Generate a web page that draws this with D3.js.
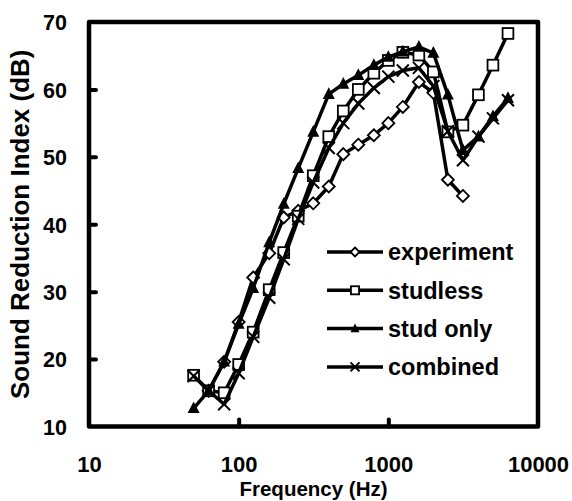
<!DOCTYPE html>
<html>
<head>
<meta charset="utf-8">
<script src="https://cdn.jsdelivr.net/npm/d3@7"></script>
<style>
  body { margin: 0; background: #fff; }
  text { font-family: "Liberation Sans", Arial, sans-serif; font-weight: bold; fill: #000; }
</style>
</head>
<body>
<div id="chart"></div>
<script>
const freqs = [50, 63, 80, 100, 125, 160, 200, 250, 315, 400, 500, 630, 800, 1000, 1250, 1600, 2000, 2500, 3150, 4000, 5000, 6300]

const experiment = [null, 15.3, 19.6, 25.5, 32.1, 35.7, 41.0, 42.0, 43.1, 45.6, 50.4, 51.8, 53.2, 55.0, 57.4, 61.1, 59.5, 46.6, 44.2, null, null, null]
const studless = [17.6, 15.3, 15.0, 19.2, 24.0, 30.3, 35.8, 41.2, 47.2, 53.0, 56.8, 60.0, 62.4, 64.3, 65.5, 65.1, 62.6, 53.7, 54.7, 59.2, 63.6, 68.3]
const studOnly = [12.7, 15.3, 19.6, 25.2, 30.5, 37.3, 43.0, 48.3, 53.7, 59.3, 60.8, 62.1, 63.6, 64.8, 65.6, 66.3, 65.4, 59.2, 51.0, 53.0, 56.0, 58.7]
const combined = [17.5, 15.3, 13.3, 17.9, 23.3, 29.1, 34.8, 40.8, 46.2, 51.3, 55.0, 57.9, 60.2, 61.9, 62.8, 63.2, 60.5, 53.8, 49.5, 53.0, 55.7, 58.4]

const seriesNames = ['experiment', 'studless', 'stud only', 'combined']
const seriesValues = [experiment, studless, studOnly, combined]
const seriesMarkers = ['diamond', 'square', 'triangle', 'cross']

const xTicks = [10, 100, 1000, 10000]
const yTicks = [10, 20, 30, 40, 50, 60, 70]

const width = 572
const height = 501
const margin = { top: 22, right: 34, bottom: 74.5, left: 89 }

const svg = d3.select('#chart')
  .append('svg')
  .attr('width', width)
  .attr('height', height)

const x = d3.scaleLog()
  .domain([10, 10000])
  .range([margin.left, width - margin.right])

const y = d3.scaleLinear()
  .domain([10, 70])
  .range([height - margin.bottom, margin.top])

// frame
svg.append('rect')
  .attr('x', x(10))
  .attr('y', y(70))
  .attr('width', x(10000) - x(10))
  .attr('height', y(10) - y(70))
  .attr('fill', 'none')
  .attr('stroke', '#000')
  .attr('stroke-width', 4.5)
  .attr('stroke-linejoin', 'round')

// y axis, ticks inside
const yAxis = svg.append('g')
  .attr('transform', `translate(${x(10)},0)`)
  .call(d3.axisLeft(y).tickValues(yTicks).tickSize(-7).tickPadding(22).tickSizeOuter(0))
yAxis.select('.domain').remove()
yAxis.selectAll('line').attr('stroke-width', 4).attr('stroke-linecap', 'round')
yAxis.selectAll('.tick')
  .filter(d => d === 10 || d === 70)
  .select('line').remove()
yAxis.selectAll('text').style('font-size', '21.5px').attr('dy', '0.36em')

// x axis, ticks inside
const xAxis = svg.append('g')
  .attr('transform', `translate(0,${y(10)})`)
  .call(d3.axisBottom(x).tickValues(xTicks).tickFormat(d3.format('d')).tickSize(-7).tickPadding(0).tickSizeOuter(0))
xAxis.select('.domain').remove()
xAxis.selectAll('line').attr('stroke-width', 4).attr('stroke-linecap', 'round')
xAxis.selectAll('.tick')
  .filter(d => d === 10 || d === 10000)
  .select('line').remove()
xAxis.selectAll('text').style('font-size', '22px').attr('y', 45).attr('dy', 0)

// axis titles
svg.append('text')
  .attr('x', (x(10) + x(10000)) / 2)
  .attr('y', 495.5)
  .attr('text-anchor', 'middle')
  .style('font-size', '20.5px')
  .text('Frequency (Hz)')

svg.append('text')
  .attr('transform', `translate(29,${(y(10) + y(70)) / 2}) rotate(-90)`)
  .attr('text-anchor', 'middle')
  .style('font-size', '26px')
  .text('Sound Reduction Index (dB)')

// markers
function drawMarker(g, type, s) {
  if (type === 'diamond') {
    g.append('path')
      .attr('d', `M0,${-s}L${s},0L0,${s}L${-s},0Z`)
      .attr('fill', '#fff').attr('stroke', '#000').attr('stroke-width', 1.8)
  } else if (type === 'square') {
    g.append('rect')
      .attr('x', -s * 0.9).attr('y', -s * 0.9).attr('width', s * 1.8).attr('height', s * 1.8)
      .attr('fill', '#fff').attr('stroke', '#000').attr('stroke-width', 1.8)
  } else if (type === 'triangle') {
    g.append('path')
      .attr('d', `M0,${-s * 1.15}L${s},${s * 0.8}L${-s},${s * 0.8}Z`)
      .attr('fill', '#000')
  } else {
    g.append('path')
      .attr('d', `M${-s},${-s}L${s},${s}M${s},${-s}L${-s},${s}`)
      .attr('stroke', '#000').attr('stroke-width', 2)
  }
}

const line = d3.line()
  .defined(d => d.v != null)
  .x(d => x(d.f))
  .y(d => y(d.v))

const plot = svg.append('g')

seriesValues.forEach((vals, i) => {
  const pts = freqs.map((f, j) => ({ f, v: vals[j] }))
  plot.append('path')
    .datum(pts)
    .attr('d', line)
    .attr('fill', 'none')
    .attr('stroke', '#000')
    .attr('stroke-width', 3.5)
    .attr('stroke-linejoin', 'round')

  plot.append('g')
    .selectAll('g')
    .data(pts.filter(d => d.v != null))
    .join('g')
    .attr('transform', d => `translate(${x(d.f)},${y(d.v)})`)
    .each(function () { drawMarker(d3.select(this), seriesMarkers[i], 6) })
})

// legend
const legend = svg.append('g')
seriesNames.forEach((name, i) => {
  const ly = 252 + i * 38.3
  legend.append('line')
    .attr('x1', 327).attr('x2', 383)
    .attr('y1', ly).attr('y2', ly)
    .attr('stroke', '#000').attr('stroke-width', 3.5)
  const m = legend.append('g').attr('transform', `translate(355,${ly})`)
  drawMarker(m, seriesMarkers[i], 4.5)
  legend.append('text')
    .attr('x', 388)
    .attr('y', ly)
    .attr('dy', '0.36em')
    .style('font-size', '23.5px')
    .text(name)
})
</script>
</body>
</html>
